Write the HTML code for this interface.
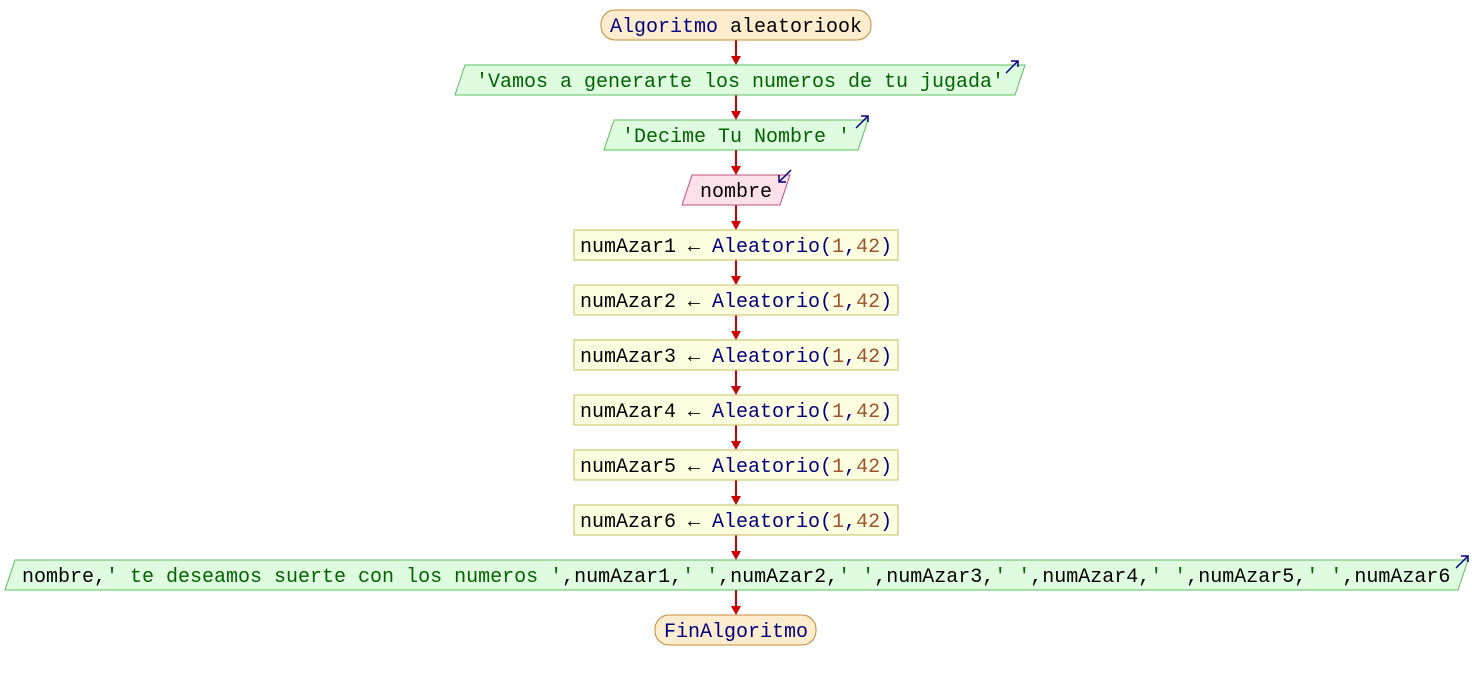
<!DOCTYPE html>
<html><head><meta charset="utf-8"><style>
html,body{margin:0;padding:0;background:#fff;}
svg text{font-family:"Liberation Mono",monospace;font-size:20px;}
</style></head><body>
<svg width="1472" height="680" xmlns="http://www.w3.org/2000/svg">
<g stroke="#cc0000" stroke-width="2">
<line x1="736" y1="40" x2="736" y2="58"/>
<line x1="736" y1="95" x2="736" y2="113"/>
<line x1="736" y1="150" x2="736" y2="168"/>
<line x1="736" y1="205" x2="736" y2="223"/>
<line x1="736" y1="260" x2="736" y2="278"/>
<line x1="736" y1="315" x2="736" y2="333"/>
<line x1="736" y1="370" x2="736" y2="388"/>
<line x1="736" y1="425" x2="736" y2="443"/>
<line x1="736" y1="480" x2="736" y2="498"/>
<line x1="736" y1="535" x2="736" y2="553"/>
<line x1="736" y1="590" x2="736" y2="608"/>
</g>
<g fill="#cc0000">
<polygon points="731,56 741,56 736,65"/>
<polygon points="731,111 741,111 736,120"/>
<polygon points="731,166 741,166 736,175"/>
<polygon points="731,221 741,221 736,230"/>
<polygon points="731,276 741,276 736,285"/>
<polygon points="731,331 741,331 736,340"/>
<polygon points="731,386 741,386 736,395"/>
<polygon points="731,441 741,441 736,450"/>
<polygon points="731,496 741,496 736,505"/>
<polygon points="731,551 741,551 736,560"/>
<polygon points="731,606 741,606 736,615"/>
</g>
<!-- start -->
<rect x="601" y="10" width="270" height="30" rx="14" fill="#fdeccd" stroke="#c98a3a"/>
<text x="736" y="32" text-anchor="middle"><tspan fill="#000080">Algoritmo</tspan> <tspan fill="#000">aleatoriook</tspan></text>
<!-- out1 -->
<polygon points="465,65 1025,65 1015,95 455,95" fill="#e0fce0" stroke="#5cbf5c"/>
<text x="740" y="87" text-anchor="middle" fill="#006400">'Vamos a generarte los numeros de tu jugada'</text>
<path d="M1006,73 L1018,61 M1011,61 L1018,61 L1018,67" stroke="#000080" stroke-width="1.5" fill="none"/>
<!-- out2 -->
<polygon points="614,120 868,120 858,150 604,150" fill="#e0fce0" stroke="#5cbf5c"/>
<text x="736" y="142" text-anchor="middle" fill="#006400">'Decime Tu Nombre '</text>
<path d="M856,128 L868,116 M861,116 L868,116 L868,122" stroke="#000080" stroke-width="1.5" fill="none"/>
<!-- input -->
<polygon points="692,175 790,175 780,205 682,205" fill="#fde0ea" stroke="#c0507a"/>
<text x="736" y="197" text-anchor="middle" fill="#000">nombre</text>
<path d="M791,170 L779,182 M779,175 L779,182 L786,182" stroke="#000080" stroke-width="1.5" fill="none"/>
<!-- assigns -->
<g>
<rect x="574" y="230" width="324" height="30" fill="#fdfde0" stroke="#c8c060"/>
<text x="580" y="252"><tspan fill="#000">numAzar1 ← </tspan><tspan fill="#000080">Aleatorio(</tspan><tspan fill="#a0522d">1</tspan><tspan fill="#000080">,</tspan><tspan fill="#a0522d">42</tspan><tspan fill="#000080">)</tspan></text>
<rect x="574" y="285" width="324" height="30" fill="#fdfde0" stroke="#c8c060"/>
<text x="580" y="307"><tspan fill="#000">numAzar2 ← </tspan><tspan fill="#000080">Aleatorio(</tspan><tspan fill="#a0522d">1</tspan><tspan fill="#000080">,</tspan><tspan fill="#a0522d">42</tspan><tspan fill="#000080">)</tspan></text>
<rect x="574" y="340" width="324" height="30" fill="#fdfde0" stroke="#c8c060"/>
<text x="580" y="362"><tspan fill="#000">numAzar3 ← </tspan><tspan fill="#000080">Aleatorio(</tspan><tspan fill="#a0522d">1</tspan><tspan fill="#000080">,</tspan><tspan fill="#a0522d">42</tspan><tspan fill="#000080">)</tspan></text>
<rect x="574" y="395" width="324" height="30" fill="#fdfde0" stroke="#c8c060"/>
<text x="580" y="417"><tspan fill="#000">numAzar4 ← </tspan><tspan fill="#000080">Aleatorio(</tspan><tspan fill="#a0522d">1</tspan><tspan fill="#000080">,</tspan><tspan fill="#a0522d">42</tspan><tspan fill="#000080">)</tspan></text>
<rect x="574" y="450" width="324" height="30" fill="#fdfde0" stroke="#c8c060"/>
<text x="580" y="472"><tspan fill="#000">numAzar5 ← </tspan><tspan fill="#000080">Aleatorio(</tspan><tspan fill="#a0522d">1</tspan><tspan fill="#000080">,</tspan><tspan fill="#a0522d">42</tspan><tspan fill="#000080">)</tspan></text>
<rect x="574" y="505" width="324" height="30" fill="#fdfde0" stroke="#c8c060"/>
<text x="580" y="527"><tspan fill="#000">numAzar6 ← </tspan><tspan fill="#000080">Aleatorio(</tspan><tspan fill="#a0522d">1</tspan><tspan fill="#000080">,</tspan><tspan fill="#a0522d">42</tspan><tspan fill="#000080">)</tspan></text>
</g>
<!-- final output -->
<polygon points="15,560 1468,560 1458,590 5,590" fill="#e0fce0" stroke="#5cbf5c"/>
<text x="22" y="582"><tspan fill="#000">nombre,</tspan><tspan fill="#006400">' te deseamos suerte con los numeros '</tspan><tspan fill="#000">,numAzar1,</tspan><tspan fill="#006400">' '</tspan><tspan fill="#000">,numAzar2,</tspan><tspan fill="#006400">' '</tspan><tspan fill="#000">,numAzar3,</tspan><tspan fill="#006400">' '</tspan><tspan fill="#000">,numAzar4,</tspan><tspan fill="#006400">' '</tspan><tspan fill="#000">,numAzar5,</tspan><tspan fill="#006400">' '</tspan><tspan fill="#000">,numAzar6</tspan></text>
<path d="M1456,568 L1468,556 M1461,556 L1468,556 L1468,562" stroke="#000080" stroke-width="1.5" fill="none"/>
<!-- end -->
<rect x="655" y="615" width="161" height="30" rx="14" fill="#fdeccd" stroke="#c98a3a"/>
<text x="736" y="637" text-anchor="middle" fill="#000080">FinAlgoritmo</text>
</svg>
</body></html>
